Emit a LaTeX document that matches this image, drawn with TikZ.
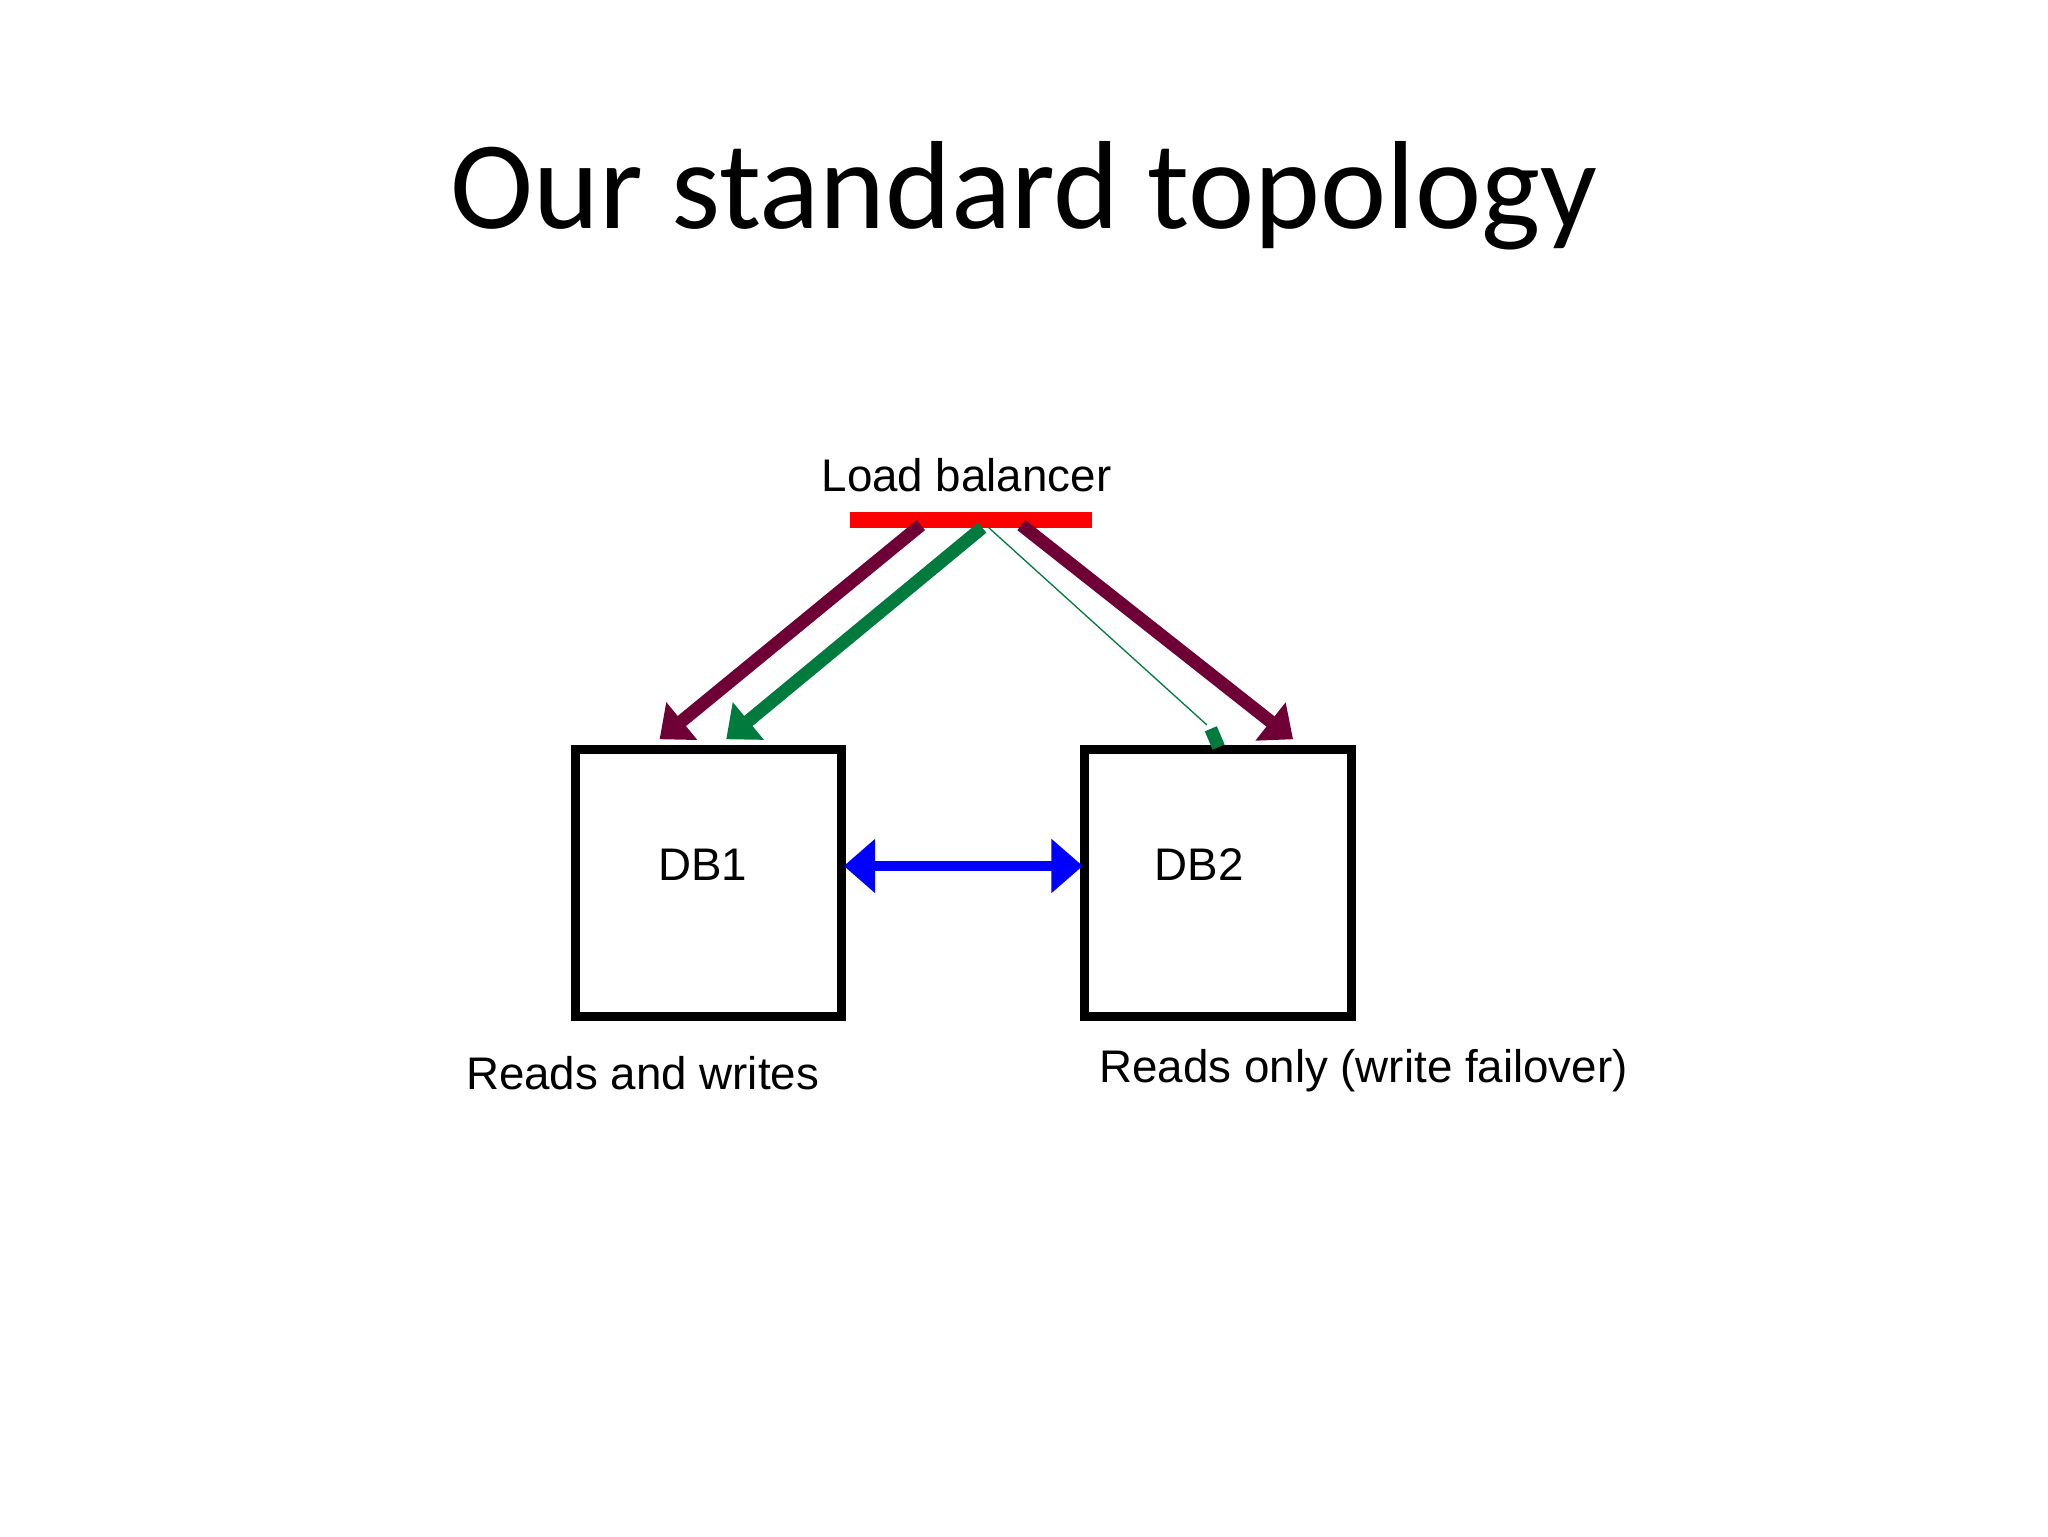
\documentclass[tikz,border=0pt]{standalone}
\usepackage{fontspec}
\setmainfont{Liberation Sans}
\newfontfamily\titlefont{Carlito}
\usetikzlibrary{arrows.meta}
\definecolor{maroon}{HTML}{6E0036}
\definecolor{dgreen}{HTML}{007A3D}
\begin{document}
\begin{tikzpicture}[x=1pt,y=-1pt,
  dbbox/.style={draw=black,line width=7pt,minimum width=204pt,minimum height=205pt,inner sep=0pt},
  lbl/.style={font=\fontsize{35}{40}\selectfont,inner sep=0pt},
  flow/.style={line width=10pt,-{Triangle[length=22pt,width=36pt]}}]
\useasboundingbox (0,0) rectangle (1568,1176);
\node[font=\titlefont\fontsize{96}{104}\selectfont,inner sep=0pt] (title) at (784,150) {Our standard topology};
\node[lbl] (lbt) at (740,364) {Load balancer};
\draw[red,line width=12pt] (651,398) -- (836,398);
\coordinate (l1) at (705,402);
\coordinate (l2) at (752,404);
\coordinate (l3) at (757,404);
\coordinate (l4) at (782,402);
\node[dbbox] (db1) at (542.5,676) {};
\node[dbbox] (db2) at (932.5,676) {};
\node[lbl] at (538,662) {DB1};
\node[lbl] at (918,662) {DB2};
\node[lbl] at (492,822) {Reads and writes};
\node[lbl] at (1044,820) {Reads only (write failover)};
\coordinate (t1) at (505,566);
\coordinate (t2) at (556,566);
\coordinate (t3) at (933,572);
\coordinate (t4) at (990,566);
\coordinate (b1) at (646,663);
\coordinate (b2) at (829,663);
\draw[flow,maroon] (l1) -- (t1);
\draw[flow,dgreen] (l2) -- (t2);
\draw[dgreen,line width=1pt] (l3) -- (924,555);
\draw[dgreen,line width=10pt] (927,558) -- (t3);
\draw[flow,maroon] (l4) -- (t4);
\draw[blue,line width=7pt,{Triangle[length=24pt,width=40pt]}-{Triangle[length=24pt,width=40pt]}] (b1) -- (b2);
\end{tikzpicture}
\end{document}
